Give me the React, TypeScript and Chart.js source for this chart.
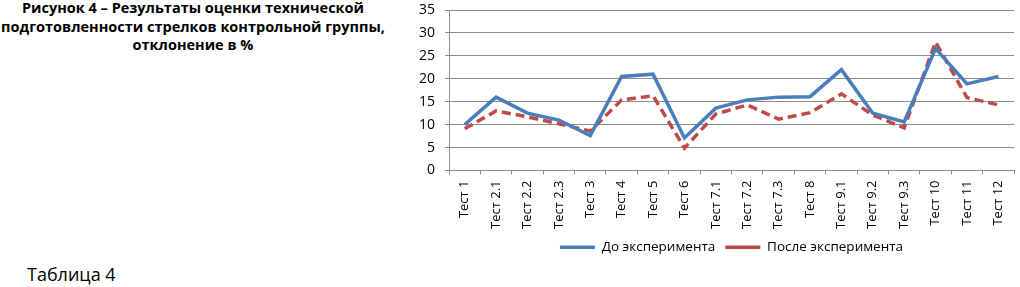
import React, { useEffect, useRef } from "react";
import { Chart, registerables } from "chart.js";

Chart.register(...registerables);

const categories = [
  "Тест 1", "Тест 2.1", "Тест 2.2", "Тест 2.3", "Тест 3", "Тест 4", "Тест 5", "Тест 6",
  "Тест 7.1", "Тест 7.2", "Тест 7.3", "Тест 8", "Тест 9.1", "Тест 9.2", "Тест 9.3",
  "Тест 10", "Тест 11", "Тест 12",
];
const beforeValues = [10, 16, 12.5, 11, 7.6, 20.5, 21, 7.1, 13.6, 15.4, 16, 16.1, 22, 12.5, 10.6, 26.6, 18.9, 20.5];
const afterValues = [9.1, 13, 11.7, 10.2, 8.6, 15.4, 16.3, 4.9, 12.3, 14.3, 11.2, 12.6, 16.7, 12.1, 9.3, 28, 15.9, 14.3];
const seriesNames = ["До эксперимента", "После эксперимента"];
const titleLines = [
  "Рисунок 4 – Результаты оценки технической",
  "подготовленности стрелков контрольной группы,",
  "отклонение в %",
];
const tableCaption = "Таблица 4";

const FONT = "'Open Sans', sans-serif";

export default function App() {
  const canvasRef = useRef<HTMLCanvasElement | null>(null);

  useEffect(() => {
    const prevMargin = document.body.style.margin;
    document.body.style.margin = "0";
    const ctx = canvasRef.current;
    if (!ctx) return;
    const chart = new Chart(ctx, {
      type: "line",
      data: {
        labels: categories,
        datasets: [
          {
            label: seriesNames[0],
            data: beforeValues,
            borderColor: "#4A7EBB",
            backgroundColor: "#4A7EBB",
            borderWidth: 3.5,
            pointRadius: 0,
            tension: 0,
          },
          {
            label: seriesNames[1],
            data: afterValues,
            borderColor: "#BE4B48",
            backgroundColor: "#BE4B48",
            borderWidth: 3.5,
            borderDash: [9, 5],
            pointRadius: 0,
            tension: 0,
          },
        ],
      },
      options: {
        animation: false,
        responsive: false,
        maintainAspectRatio: false,
        layout: { padding: { top: 10, right: 2, left: 0, bottom: 0 } },
        plugins: {
          tooltip: { enabled: false },
          legend: {
            position: "bottom",
            fullSize: false,
            labels: {
              usePointStyle: true,
              pointStyle: "line",
              pointStyleWidth: 35,
              color: "#000",
              padding: 10,
              font: { family: FONT, size: 13.5 },
            },
          },
        },
        scales: {
          x: {
            offset: true,
            grid: {
              offset: true,
              drawOnChartArea: false,
              drawTicks: true,
              tickLength: 4,
              color: "#8c8c8c",
            },
            border: { color: "#8c8c8c", width: 1 },
            ticks: {
              minRotation: 90,
              maxRotation: 90,
              autoSkip: false,
              padding: 6,
              color: "#000",
              font: { family: FONT, size: 13 },
            },
            afterFit: (scale: any) => {
              scale.height = 60;
            },
          },
          y: {
            min: 0,
            max: 35,
            ticks: {
              stepSize: 5,
              padding: 10,
              color: "#000",
              font: { family: FONT, size: 14 },
            },
            grid: {
              color: "#8c8c8c",
              tickLength: 4,
            },
            border: { color: "#8c8c8c", width: 1 },
            afterFit: (scale: any) => {
              scale.width = 49;
              scale.paddingTop = 0;
              scale.paddingBottom = 0;
            },
          },
        },
      },
    });
    return () => {
      chart.destroy();
      document.body.style.margin = prevMargin;
    };
  }, []);

  return (
    <div style={{ position: "relative", width: 1020, height: 287, background: "#fff", overflow: "hidden" }}>
      <div
        style={{
          position: "absolute",
          left: 0,
          top: -1,
          width: 386,
          textAlign: "center",
          fontFamily: FONT,
          fontWeight: 700,
          fontSize: 14.5,
          lineHeight: "18.6px",
          color: "#000",
          whiteSpace: "nowrap",
        }}
      >
        {titleLines.map((l, i) => (
          <div key={i}>{l}</div>
        ))}
      </div>
      <div
        style={{
          position: "absolute",
          left: 27,
          top: 263,
          fontFamily: FONT,
          fontSize: 18,
          lineHeight: "22px",
          color: "#000",
          whiteSpace: "nowrap",
        }}
      >
        {tableCaption}
      </div>
      <canvas
        ref={canvasRef}
        width={620}
        height={264}
        style={{ position: "absolute", left: 400, top: 0, width: 620, height: 264 }}
      />
    </div>
  );
}
